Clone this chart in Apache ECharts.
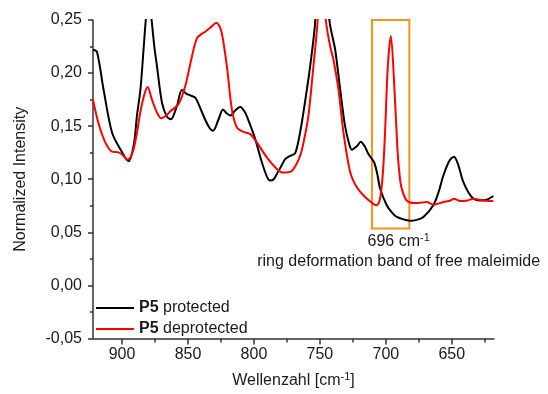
<!DOCTYPE html>
<html>
<head>
<meta charset="utf-8">
<script src="https://cdn.jsdelivr.net/npm/echarts@6/dist/echarts.min.js"></script>
<style>html,body{margin:0;padding:0;background:#fff}#c{width:548px;height:394px}</style>
</head>
<body>
<div id="c"></div>
<script>
// Wavenumbers (cm-1) and normalized intensities
var protWn = [922, 919, 914, 907.6, 901.3, 895, 891, 888.7, 886, 883.7, 882, 880, 878, 875.5, 873.5, 869.7, 866, 863, 858.4, 854.6, 851, 848.3, 844.5, 841, 838.2, 834, 831, 826.8, 823.5, 821, 818, 814, 810.4, 807, 804, 799, 794, 790, 787.7, 785, 782.6, 779, 776.3, 772.5, 768.7, 765, 761, 757.4, 753.6, 751, 748, 745.5, 742.8, 738.4, 734.6, 730.9, 727.5, 725.8, 722, 719, 716, 713.2, 708.9, 706.5, 704.3, 699.3, 695, 691.7, 686, 681.6, 676, 671.5, 664, 660, 656.4, 652, 648.3, 645, 641.2, 634.9, 628.6, 623.5, 618.5];
var protInt = [0.222, 0.220, 0.1845, 0.144, 0.1284, 0.117, 0.133, 0.1596, 0.185, 0.222, 0.25, 0.275, 0.255, 0.225, 0.2064, 0.172, 0.159, 0.1565, 0.169, 0.184, 0.1805, 0.179, 0.1768, 0.168, 0.1596, 0.149, 0.1456, 0.1565, 0.1658, 0.1625, 0.160, 0.165, 0.168, 0.1635, 0.155, 0.1378, 0.116, 0.102, 0.0988, 0.100, 0.105, 0.113, 0.119, 0.122, 0.1247, 0.144, 0.175, 0.2063, 0.248, 0.33, 0.40, 0.33, 0.25, 0.222, 0.1845, 0.150, 0.132, 0.1278, 0.131, 0.1353, 0.131, 0.1237, 0.116, 0.105, 0.091, 0.0755, 0.068, 0.0645, 0.062, 0.0608, 0.062, 0.0645, 0.0755, 0.088, 0.1035, 0.117, 0.1212, 0.113, 0.0973, 0.0833, 0.080, 0.0807, 0.0842];

var deprotWn = [922, 918, 912.7, 907.6, 902.6, 898.8, 896.2, 893.5, 891.2, 888.5, 886.2, 883, 880.6, 877.3, 873.5, 870.3, 866.5, 863.4, 857.1, 852.1, 847, 843.2, 840, 836.9, 832, 828.6, 826.5, 824.3, 820.5, 816.7, 812.9, 807.9, 802.8, 797.8, 790.2, 782.6, 777.6, 771.2, 765, 761.5, 758.7, 754.9, 751.8, 749.5, 748, 746.5, 745.5, 742.2, 739.7, 735.9, 732.1, 727, 722, 715.7, 710.7, 707.4, 705, 703.6, 702, 700.6, 698.5, 696.2, 693.7, 691.2, 689.5, 687.9, 684.2, 677.8, 673, 669, 664, 656.4, 651, 648.3, 643.7, 638, 633.6, 626, 618.5];
var deprotInt = [0.175, 0.1534, 0.1347, 0.126, 0.1253, 0.122, 0.1184, 0.121, 0.1284, 0.145, 0.1628, 0.180, 0.187, 0.175, 0.1628, 0.1574, 0.160, 0.164, 0.171, 0.1876, 0.2157, 0.233, 0.2365, 0.239, 0.244, 0.2475, 0.245, 0.2375, 0.2063, 0.1658, 0.1487, 0.1446, 0.1425, 0.1347, 0.1206, 0.1097, 0.1063, 0.108, 0.122, 0.140, 0.1596, 0.2063, 0.248, 0.31, 0.32, 0.28, 0.25, 0.225, 0.2126, 0.1845, 0.144, 0.1066, 0.0925, 0.0833, 0.078, 0.0755, 0.079, 0.088, 0.11, 0.144, 0.2063, 0.235, 0.1908, 0.1284, 0.103, 0.091, 0.080, 0.0776, 0.078, 0.0785, 0.076, 0.0785, 0.080, 0.0816, 0.0795, 0.080, 0.0816, 0.080, 0.0795];

var xMajorTicks = [900, 850, 800, 750, 700, 650];
var xMinorTicks = [875, 825, 775, 725, 675, 625];
var seriesNames = ['P5 protected', 'P5 deprotected'];
var bandBox = [710.5, 682.2, 0.0536, 0.25]; // wavenumber from, to, intensity from, to

function zip(a, b) { return a.map(function (v, i) { return [v, b[i]]; }); }

var FONT = '"Liberation Sans", Arial, sans-serif';
var TXT = '#1a1a1a';
var AX = '#333';

var chart = echarts.init(document.getElementById('c'), null, { renderer: 'canvas' });
chart.setOption({
  animation: false,
  backgroundColor: '#fff',
  grid: { left: 93, right: 54, top: 20, bottom: 53, containLabel: false },
  legend: {
    orient: 'vertical', left: 96, top: 298, padding: 0,
    icon: 'rect',
    itemWidth: 38, itemHeight: 2, itemGap: 1,
    data: seriesNames,
    formatter: function (n) { return '{b|P5}{n|' + n.replace('P5', '') + '}'; },
    textStyle: {
      fontFamily: FONT, fontSize: 16, color: TXT, lineHeight: 20,
      rich: {
        b: { fontFamily: FONT, fontSize: 16, fontWeight: 'bold', color: TXT, lineHeight: 20 },
        n: { fontFamily: FONT, fontSize: 16, color: TXT, lineHeight: 20 }
      }
    }
  },
  xAxis: [{
    type: 'value', inverse: true, min: 618, max: 922,
    name: '{t|Wellenzahl [cm}{s|-1}{t|]}',
    nameLocation: 'middle', nameGap: 33,
    nameTextStyle: {
      rich: {
        t: { fontFamily: FONT, fontSize: 16, color: TXT },
        s: { fontFamily: FONT, fontSize: 11, color: TXT, padding: [0, 0, 8, 0] }
      }
    },
    axisLine: { show: true, onZero: false, lineStyle: { color: AX, width: 1.5 } },
    axisTick: { show: true, length: 6, customValues: xMajorTicks, lineStyle: { color: AX, width: 1.5 } },
    axisLabel: { customValues: xMajorTicks, fontFamily: FONT, fontSize: 16, color: TXT, margin: 8 },
    splitLine: { show: false }
  }, {
    type: 'value', inverse: true, min: 618, max: 922, position: 'bottom',
    axisLine: { show: false, onZero: false },
    axisTick: { show: true, length: 4, customValues: xMinorTicks, lineStyle: { color: AX, width: 1.5 } },
    axisLabel: { show: false, customValues: xMinorTicks },
    splitLine: { show: false }
  }],
  yAxis: {
    type: 'value', min: -0.05, max: 0.25, interval: 0.05,
    name: 'Normalized Intensity', nameLocation: 'middle', nameGap: 64,
    nameTextStyle: { fontFamily: FONT, fontSize: 16, color: TXT },
    axisLine: { show: true, onZero: false, lineStyle: { color: AX, width: 1.5 } },
    axisTick: { show: true, length: 5, lineStyle: { color: AX, width: 1.5 } },
    minorTick: { show: true, splitNumber: 2, length: 3, lineStyle: { color: AX, width: 1.5 } },
    axisLabel: {
      fontFamily: FONT, fontSize: 16, color: TXT, margin: 11,
      formatter: function (v) { return v.toFixed(2).replace('.', ','); }
    },
    splitLine: { show: false }
  },
  series: [{
    name: seriesNames[0], type: 'line', xAxisIndex: 0, data: zip(protWn, protInt),
    symbol: 'none', smooth: 0.3, clip: true,
    lineStyle: { color: '#000', width: 2 }, itemStyle: { color: '#000' }, z: 3
  }, {
    name: seriesNames[1], type: 'line', xAxisIndex: 0, data: zip(deprotWn, deprotInt),
    symbol: 'none', smooth: 0.3, clip: true,
    lineStyle: { color: '#ff0000', width: 2 }, itemStyle: { color: '#ff0000' }, z: 4,
    markArea: {
      silent: true,
      itemStyle: { color: 'rgba(0,0,0,0)', borderColor: '#f7941d', borderWidth: 2 },
      label: {
        show: true, position: 'bottom', distance: 2, offset: [8, 0],
        formatter: '{t|696 cm}{s|-1}\n{t|ring deformation band of free maleimide}',
        align: 'center',
        rich: {
          t: { fontFamily: FONT, fontSize: 16, color: TXT, lineHeight: 20, align: 'center' },
          s: { fontFamily: FONT, fontSize: 11, color: TXT, padding: [0, 0, 8, 0] }
        }
      },
      data: [[{ xAxis: bandBox[0], yAxis: bandBox[2] }, { xAxis: bandBox[1], yAxis: bandBox[3] }]]
    }
  }]
});
</script>
</body>
</html>
